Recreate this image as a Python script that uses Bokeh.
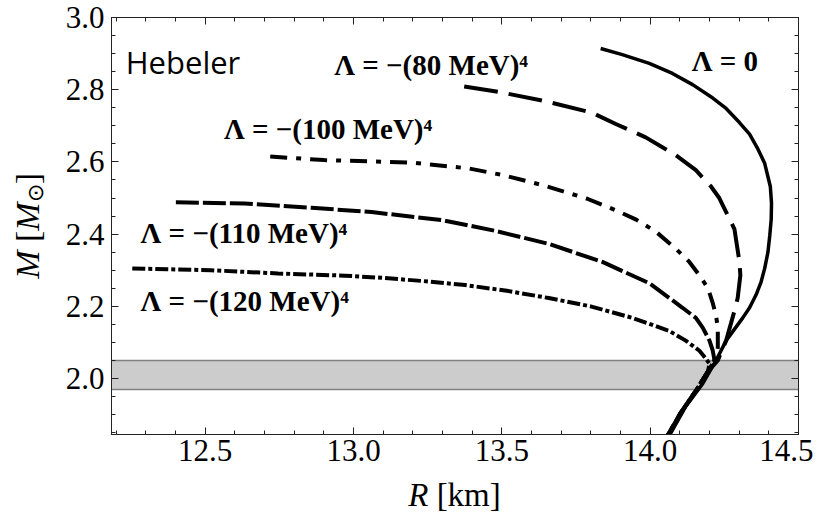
from bokeh.plotting import figure
from bokeh.models import Range1d, FixedTicker, LinearAxis, Label, PrintfTickFormatter, Div
from bokeh.layouts import row, column
from bokeh.embed import file_html
from bokeh.resources import INLINE

# ---------------- data ----------------
x_ticks = [12.5, 13.0, 13.5, 14.0, 14.5]
y_ticks = [2.0, 2.2, 2.4, 2.6, 2.8, 3.0]
x_minor = [12.2, 12.3, 12.4, 12.6, 12.7, 12.8, 12.9, 13.1, 13.2, 13.3, 13.4,
           13.6, 13.7, 13.8, 13.9, 14.1, 14.2, 14.3, 14.4]
y_minor = [1.85, 1.9, 1.95, 2.05, 2.1, 2.15, 2.25, 2.3, 2.35, 2.45, 2.5, 2.55,
           2.65, 2.7, 2.75, 2.85, 2.9, 2.95]
x_lim = (12.184, 14.5)
y_lim = (1.845, 3.0)

band_low = 1.97
band_high = 2.05

# Lambda = 0 (solid)
R_0 = [13.833, 13.906, 13.997, 14.075, 14.143, 14.211, 14.256, 14.301, 14.335,
       14.363, 14.386, 14.397, 14.405, 14.409, 14.408, 14.403, 14.397, 14.386,
       14.374, 14.357, 14.335, 14.312, 14.256, 14.222, 14.177, 14.120, 14.064, 14.040]
M_0 = [2.914, 2.897, 2.873, 2.845, 2.814, 2.777, 2.748, 2.709, 2.677,
       2.636, 2.596, 2.559, 2.532, 2.486, 2.441, 2.395, 2.350, 2.305,
       2.268, 2.232, 2.196, 2.168, 2.105, 2.050, 1.986, 1.923, 1.841, 1.805]

# Lambda = -(80 MeV)^4
R_80 = [13.373, 13.489, 13.647, 13.805, 13.884, 13.985, 14.087, 14.154, 14.205,
        14.233, 14.284, 14.301, 14.304, 14.295, 14.284, 14.256, 14.228]
M_80 = [2.809, 2.794, 2.768, 2.736, 2.705, 2.668, 2.618, 2.577, 2.532,
        2.500, 2.414, 2.323, 2.286, 2.223, 2.187, 2.105, 2.050]

# Lambda = -(100 MeV)^4
R_100 = [12.719, 12.900, 13.196, 13.388, 13.500, 13.636, 13.788, 13.884, 13.951,
         14.019, 14.087, 14.132, 14.166, 14.195, 14.211, 14.222, 14.228, 14.228, 14.222]
M_100 = [2.615, 2.605, 2.598, 2.582, 2.564, 2.536, 2.498, 2.466, 2.441,
         2.407, 2.359, 2.323, 2.286, 2.250, 2.209, 2.174, 2.141, 2.086, 2.059]

# Lambda = -(110 MeV)^4
R_110 = [12.401, 12.632, 12.858, 13.061, 13.297, 13.478, 13.658, 13.839, 13.997,
         14.109, 14.154, 14.177, 14.200, 14.211, 14.217]
M_110 = [2.488, 2.485, 2.473, 2.461, 2.439, 2.409, 2.373, 2.323, 2.264,
         2.196, 2.168, 2.141, 2.105, 2.077, 2.050]

# Lambda = -(120 MeV)^4
R_120 = [12.254, 12.519, 12.745, 12.970, 13.094, 13.235, 13.376, 13.517, 13.658,
         13.799, 13.940, 14.064, 14.120, 14.166, 14.188, 14.200]
M_120 = [2.305, 2.300, 2.291, 2.285, 2.279, 2.270, 2.259, 2.243, 2.223,
         2.200, 2.168, 2.132, 2.105, 2.077, 2.055, 2.041]

# shared low-mass branch of the modified curves
lower_R = [14.195, 14.157, 14.103, 14.036]
lower_M = [2.020, 1.970, 1.905, 1.810]

SERIF = "'Liberation Serif'"

# ---------------- main figure ----------------
p = figure(width=763, height=474, output_backend="svg", toolbar_location=None,
           x_range=Range1d(*x_lim), y_range=Range1d(*y_lim),
           min_border_left=61, min_border_right=15, min_border_top=17,
           min_border_bottom=40)
p.grid.visible = False
p.background_fill_color = "white"
p.border_fill_color = "white"
p.outline_line_color = "#222222"
p.outline_line_width = 1


def style_axis(ax, ticks, minor, labels=True):
    ax.ticker = FixedTicker(ticks=ticks, minor_ticks=minor)
    ax.formatter = PrintfTickFormatter(format="%.1f")
    ax.axis_line_color = "#222222"
    ax.major_tick_line_color = "#222222"
    ax.minor_tick_line_color = "#222222"
    ax.major_tick_in = 7
    ax.major_tick_out = 0
    ax.minor_tick_in = 4
    ax.minor_tick_out = 0
    ax.axis_label = None
    if labels:
        ax.major_label_text_font = SERIF
        ax.major_label_text_font_size = "31px"
        ax.major_label_text_color = "black"
        ax.major_label_text_font_style = "normal"
    else:
        ax.major_label_text_font_size = "1px"
        ax.major_label_text_color = None
        ax.major_label_standoff = 0


style_axis(p.xaxis[0], x_ticks, x_minor)
p.xaxis[0].major_label_standoff = 5
style_axis(p.yaxis[0], y_ticks, y_minor)
p.yaxis[0].major_label_standoff = 7

top = LinearAxis()
style_axis(top, x_ticks, x_minor, labels=False)
p.add_layout(top, "above")
right = LinearAxis()
style_axis(right, y_ticks, y_minor, labels=False)
p.add_layout(right, "right")

# band
p.hstrip(y0=[band_low], y1=[band_high], fill_color="#cccccc", fill_alpha=1.0,
         line_color="#808080", line_width=1.5)

# curves
p.line(R_120 + lower_R, M_120 + lower_M, line_color="black", line_width=4,
       line_dash="13 3 4 3")
p.line(R_110 + lower_R, M_110 + lower_M, line_color="black", line_width=4,
       line_dash="23 4")
p.line(R_100 + lower_R, M_100 + lower_M, line_color="black", line_width=4,
       line_dash="17 9 5 9")
p.line(R_80 + lower_R, M_80 + lower_M, line_color="black", line_width=4,
       line_dash="34 11")
p.line(R_0, M_0, line_color="black", line_width=3.5)

# in-plot labels (anchored at their vertical middle)
p.add_layout(Label(x=12.232, y=2.877, text="Hebeler", text_font="Open Sans",
                   text_font_size="31px", text_color="black",
                   text_align="left", text_baseline="middle"))
for (lx, ly, txt) in [(12.935, 2.869, "Λ = −(80 MeV)⁴"),
                      (14.140, 2.880, "Λ = 0"),
                      (12.563, 2.692, "Λ = −(100 MeV)⁴"),
                      (12.282, 2.403, "Λ = −(110 MeV)⁴"),
                      (12.282, 2.215, "Λ = −(120 MeV)⁴")]:
    p.add_layout(Label(x=lx, y=ly, text=txt, text_font=SERIF,
                       text_font_size="29px", text_font_style="bold",
                       text_color="black", text_align="left",
                       text_baseline="middle"))

# ---------------- axis titles (HTML text) ----------------
left_html = (
    '<div style="box-sizing:border-box;width:50px;height:451px;padding-left:8px;'
    'display:flex;align-items:center;justify-content:center;">'
    '<span style="writing-mode:vertical-rl;transform:rotate(180deg);'
    "font-family:'Liberation Serif',serif;font-size:34px;line-height:1;"
    'white-space:nowrap;color:black;">'
    '<i>M</i>&nbsp;[<i>M</i><sub style="font-size:22px;">⊙</sub>]</span></div>'
)
bottom_html = (
    '<div style="box-sizing:border-box;width:763px;height:37px;padding-left:61px;'
    'padding-right:15px;text-align:center;'
    "font-family:'Liberation Serif',serif;font-size:33px;line-height:37px;"
    'white-space:nowrap;color:black;position:relative;top:3px;">'
    '<i>R</i>&nbsp;[km]</div>'
)
left = Div(text=left_html, width=50, height=511, margin=(0, 0, 0, 0))
bottom = Div(text=bottom_html, width=763, height=37, margin=(0, 0, 0, 0))

layout = row(left, column(p, bottom, spacing=0), spacing=0)
open("out.html", "w").write(file_html(layout, INLINE))
